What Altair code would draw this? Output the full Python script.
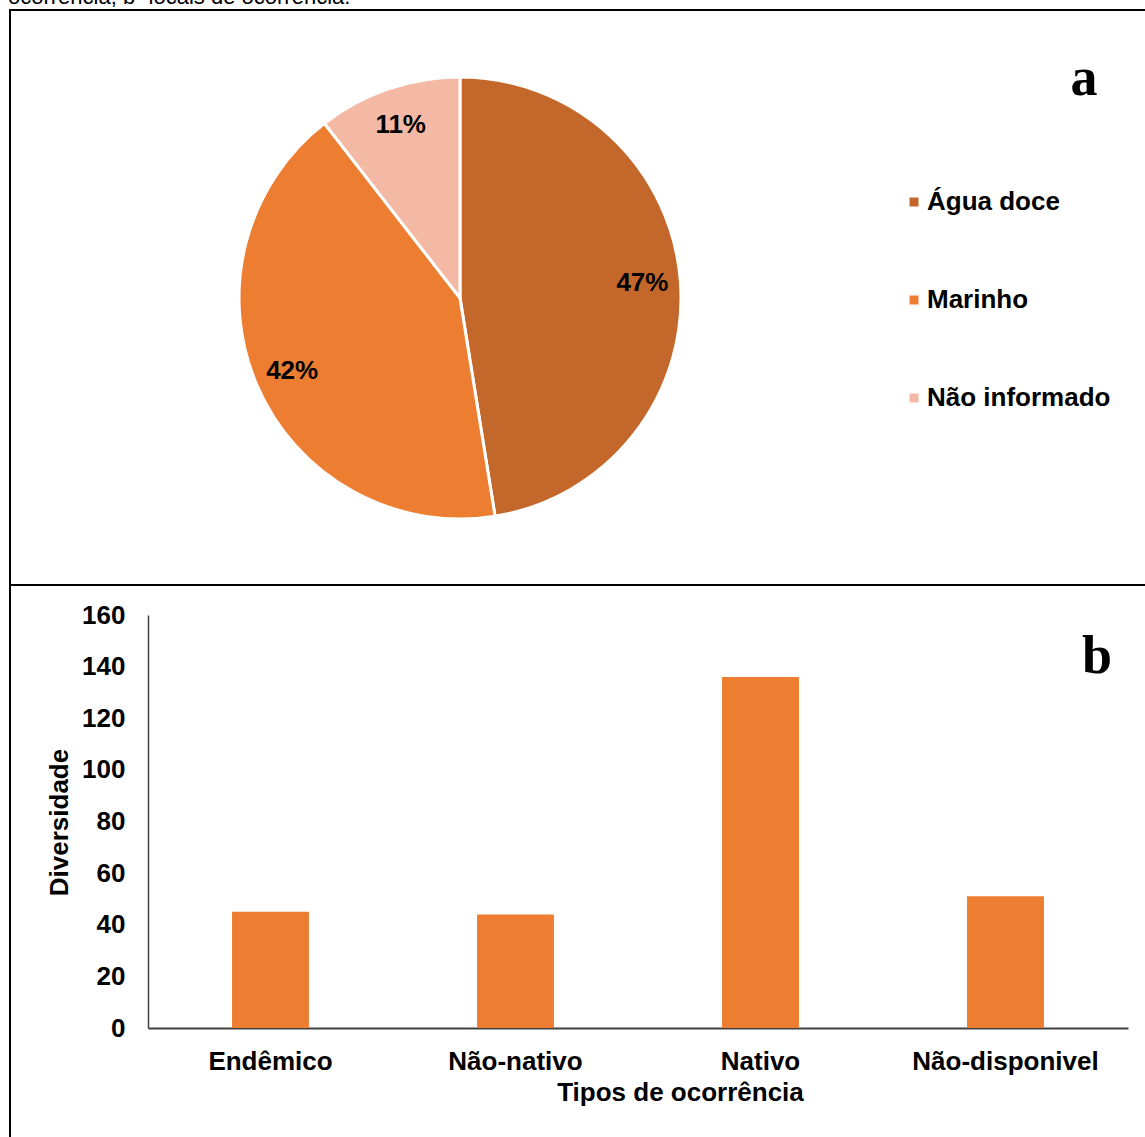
import altair as alt
import pandas as pd

# ---- data ----
habitat = ["Água doce", "Marinho", "Não informado"]
habitat_n = [131, 116, 29]
habitat_colors = ["#C4672A", "#ED7D31", "#F4B9A4"]

tipos = ["Endêmico", "Não-nativo", "Nativo", "Não-disponivel"]
diversidade = [45, 44, 136, 51]
y_ticks = [0, 20, 40, 60, 80, 100, 120, 140, 160]

caption = "ocorrência; b- locais de ocorrência."

total = sum(habitat_n)
pie_df = pd.DataFrame({
    "habitat": habitat,
    "n": habitat_n,
    "ordem": list(range(len(habitat))),
    "rotulo": [f"{round(100 * v / total)}%" for v in habitat_n],
})
bar_df = pd.DataFrame({"tipo": tipos, "div": diversidade})
one = pd.DataFrame({"k": [0]})

FONT = "Liberation Sans"
SERIF = "Liberation Serif"
W, H = 1145, 1137
CX, CY, R = 460, 298, 221

# ---- frame & caption ----
frame = alt.Chart(one).mark_rect(fillOpacity=0, stroke="black", strokeWidth=2).encode(
    x=alt.value(10), x2=alt.value(1170), y=alt.value(10), y2=alt.value(1170)
)
divider = alt.Chart(one).mark_rule(color="black", strokeWidth=2).encode(
    x=alt.value(10), x2=alt.value(1170), y=alt.value(585)
)
cap = alt.Chart(one).mark_text(
    align="left", baseline="alphabetic", font=FONT, fontSize=22, color="black"
).encode(x=alt.value(8), y=alt.value(4), text=alt.value(caption))

# ---- panel a: pie ----
pie_base = alt.Chart(pie_df).encode(
    theta=alt.Theta("n:Q", stack=True),
    order=alt.Order("ordem:Q"),
    detail="habitat:N",
)
arcs = pie_base.mark_arc(outerRadius=R, stroke="white", strokeWidth=3).encode(
    x=alt.value(CX),
    y=alt.value(CY),
    color=alt.Color(
        "habitat:N",
        scale=alt.Scale(domain=habitat, range=habitat_colors),
        legend=alt.Legend(
            title=None, orient="none", legendX=901, legendY=189,
            symbolType="square", symbolSize=81, symbolStrokeWidth=0,
            labelFont=FONT, labelFontSize=26, labelFontWeight="bold",
            labelColor="black", labelOffset=0, labelLimit=0, rowPadding=72, padding=0,
        ),
    ),
)
pie_labels = pie_base.mark_text(
    radius=183, font=FONT, fontSize=26, fontWeight="bold", color="black",
    align="center", baseline="middle",
).encode(x=alt.value(CX), y=alt.value(CY), text="rotulo:N")

lab_a = alt.Chart(one).mark_text(
    font=SERIF, fontSize=54, fontWeight="bold", align="center", baseline="alphabetic", color="black"
).encode(x=alt.value(1084), y=alt.value(95), text=alt.value("a"))

# ---- panel b: bars ----
bars = alt.Chart(bar_df).mark_bar(color="#ED7D31").encode(
    x=alt.X(
        "tipo:N", sort=tipos,
        scale=alt.Scale(range=[148, 1128], paddingInner=0.686, paddingOuter=0.343),
        axis=alt.Axis(
            title="Tipos de ocorrência", labelAngle=0, offset=-109, ticks=False,
            domainColor="#404040", domainWidth=2,
            labelFont=FONT, labelFontSize=26, labelFontWeight="bold", labelColor="black",
            labelBaseline="alphabetic", labelPadding=41, labelLimit=0,
            titleFont=FONT, titleFontSize=26, titleFontWeight="bold", titleColor="black",
            titleX=680, titleY=72, titleBaseline="alphabetic", titleAlign="center",
        ),
    ),
    y=alt.Y(
        "div:Q",
        scale=alt.Scale(domain=[0, 160], range=[1028, 615], nice=False, zero=True),
        axis=alt.Axis(
            title="Diversidade", values=y_ticks, offset=-148, grid=False, ticks=False,
            domainColor="#404040", domainWidth=1.5,
            labelFont=FONT, labelFontSize=26, labelFontWeight="bold", labelColor="black",
            labelPadding=23,
            titleFont=FONT, titleFontSize=26, titleFontWeight="bold", titleColor="black",
            titleX=-81, titleY=822, titleAngle=-90, titleBaseline="alphabetic", titleAlign="center",
        ),
    ),
)

lab_b = alt.Chart(one).mark_text(
    font=SERIF, fontSize=54, fontWeight="bold", align="center", baseline="alphabetic", color="black"
).encode(x=alt.value(1097), y=alt.value(673), text=alt.value("b"))

chart = alt.layer(
    frame, divider, cap, arcs, pie_labels, lab_a, bars, lab_b
).properties(
    width=W, height=H, padding=0, autosize=alt.AutoSizeParams(type="none"),
    background="white",
).configure_view(stroke="transparent")

chart.save("out.html", embed_options={"renderer": "svg", "actions": False})
